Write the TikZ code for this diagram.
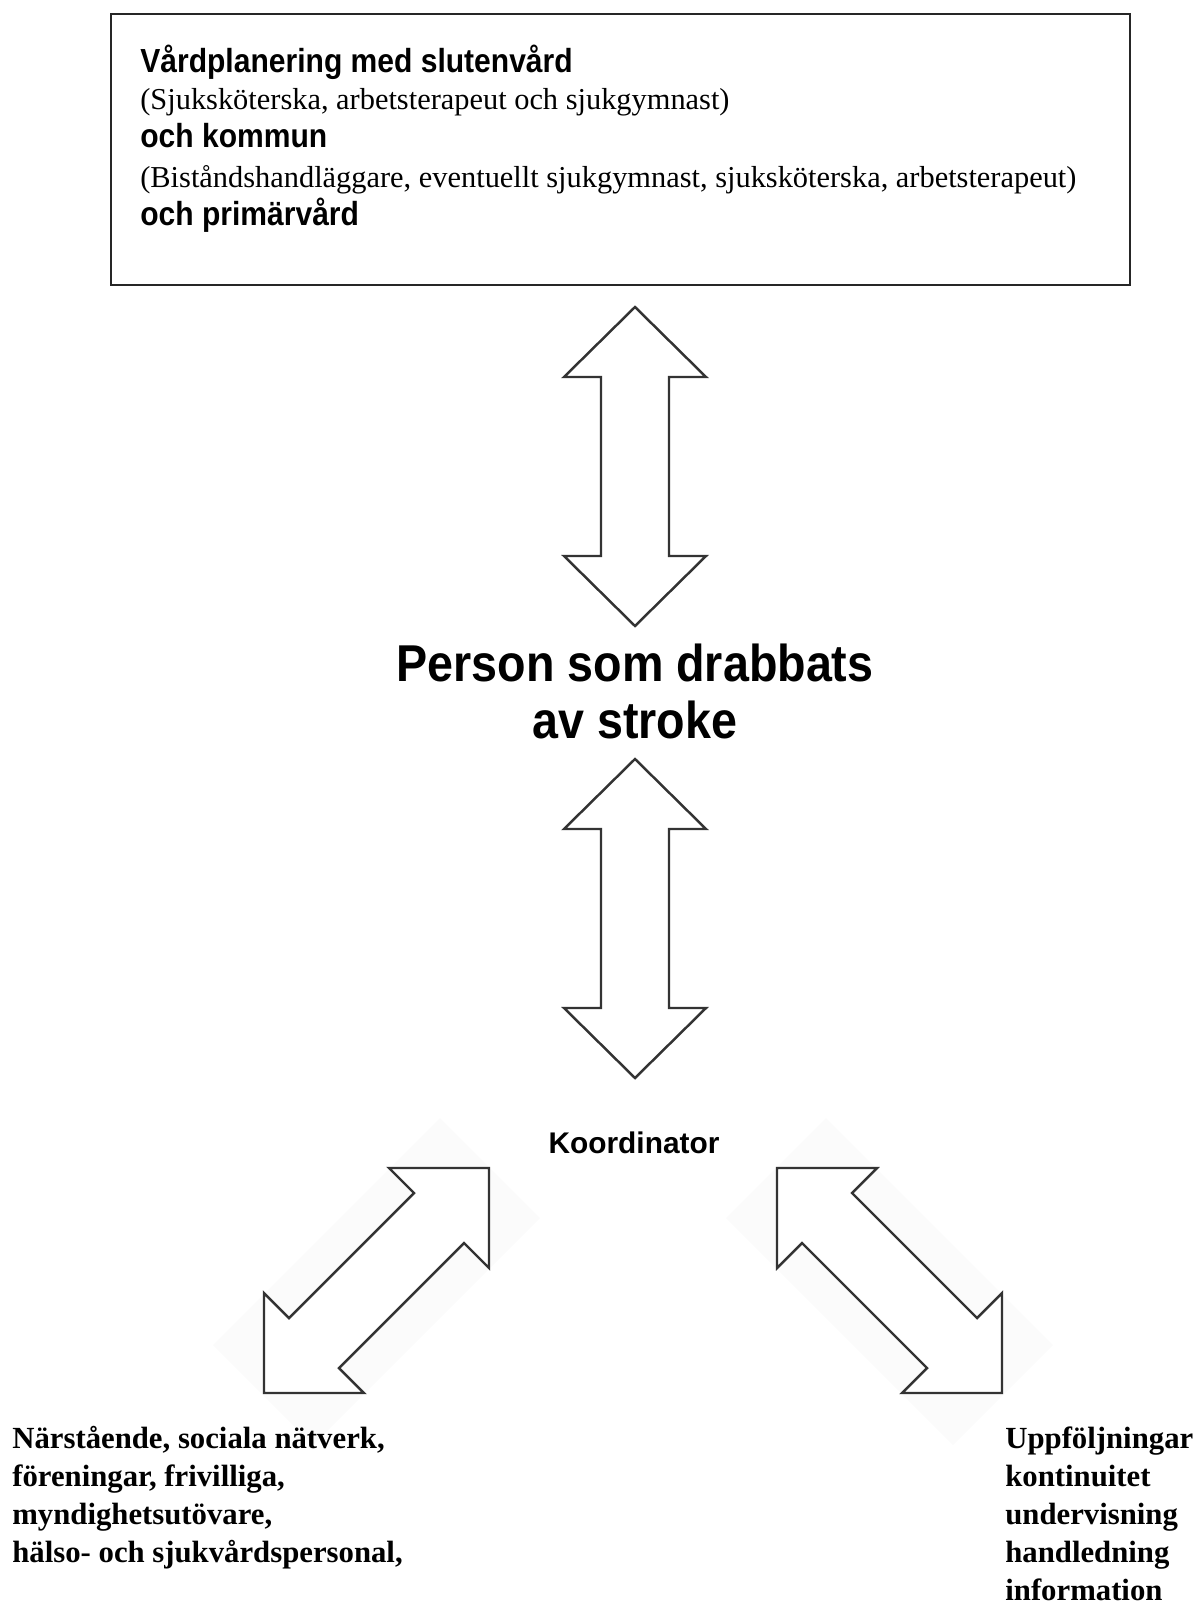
\documentclass[tikz,border=0pt]{standalone}
\usepackage{fontspec}
\setmainfont{Liberation Serif}
\newfontfamily\gothic[FakeStretch=0.9]{Liberation Sans}
\newfontfamily\gothicwide{Liberation Sans}

\begin{document}
\begin{tikzpicture}[x=0.02cm, y=-0.02cm,
  blockarrow/.style={draw=black!80, line width=1.4pt, line join=miter, fill=white},
  faint/.style={fill=black!1.5, draw=none},
  boxhead/.style={anchor=base west, inner sep=0pt, font=\gothic\bfseries\fontsize{19}{22}\selectfont},
  boxsub/.style={anchor=base west, inner sep=0pt, font=\fontsize{17.3}{20}\selectfont},
  sidetext/.style={anchor=base west, inner sep=0pt, font=\bfseries\fontsize{17.5}{21}\selectfont}]
\useasboundingbox (0, 0) rectangle (1198, 1602);
% planning box
\node [draw=black!85, line width=1.2pt, minimum width=20.38cm, minimum height=5.42cm, anchor=north west] (plan) at (110, 13) {};
\node [boxhead] (slutenvard) at (140, 72) {Vårdplanering med slutenvård};
\node [boxsub] (staff1) at (140, 110) {(Sjuksköterska, arbetsterapeut och sjukgymnast)};
\node [boxhead] (kommun) at (140, 148) {och kommun};
\node [boxsub] (staff2) at (140, 187) {(Biståndshandläggare, eventuellt sjukgymnast, sjuksköterska, arbetsterapeut)};
\node [boxhead] (primar) at (140, 225) {och primärvård};
% vertical arrows
\foreach \t in {307, 759}{\draw [blockarrow] (635, \t) -- (706, \t+70) -- (669, \t+70) -- (669, \t+249) -- (706, \t+249) -- (635, \t+319) -- (564, \t+249) -- (601, \t+249) -- (601, \t+70) -- (564, \t+70) -- cycle;}
\node [anchor=base, inner sep=0pt, align=center, font=\gothic\bfseries\fontsize{29.5}{32.4}\selectfont] (person) at (635, 738) {Person som drabbats\\av stroke};
\node [anchor=base, inner sep=0pt, font=\gothicwide\bfseries\fontsize{17}{20}\selectfont] (koord) at (634, 1153) {Koordinator};
% diagonal arrows, right one mirrored
\foreach \s in {1, -1}{
\begin{scope}[shift={(633, 0)}, xscale=\s]
\fill [faint] (-193, 1118) -- (-93, 1218) -- (-320, 1445) -- (-420, 1345) -- cycle;
\draw [blockarrow] (-144, 1168) -- (-244, 1168) -- (-219, 1193) -- (-344, 1318) -- (-369, 1293) -- (-369, 1393) -- (-269, 1393) -- (-294, 1368) -- (-169, 1243) -- (-144, 1268) -- cycle;
\end{scope}
}
% side texts
\foreach \txt [count=\i from 0] in {{Närstående, sociala nätverk,}, {föreningar, frivilliga,}, {myndighetsutövare,}, {hälso- och sjukvårdspersonal,}}{\node [sidetext] (near\i) at (12, 1448+38*\i) {\txt};}
\foreach \txt [count=\i from 0] in {Uppföljningar, kontinuitet, undervisning, handledning, information}{\node [sidetext] (follow\i) at (1005, 1448+38*\i) {\txt};}
\end{tikzpicture}
\end{document}
